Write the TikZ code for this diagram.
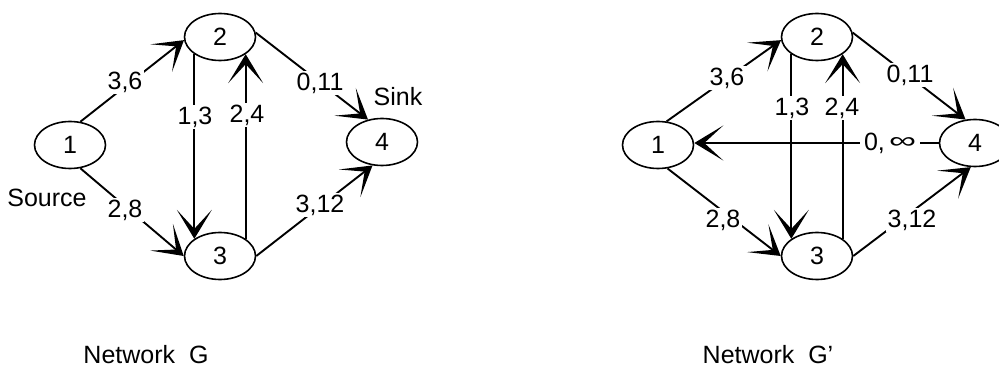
\documentclass[tikz,border=0pt]{standalone}
\usepackage{fontspec}
\usepackage{graphicx}
\setmainfont{Liberation Sans}
\usetikzlibrary{shapes.geometric,arrows.meta}
\begin{document}
\begin{tikzpicture}[x=1pt,y=-1pt,
 vtx/.style={ellipse,draw,line width=1.6pt,minimum width=71pt,minimum height=47pt,inner sep=0pt,font=\fontsize{25}{28}\selectfont},
 edge/.style={line width=1.9pt,-{Stealth[length=29pt,width=35pt,inset=19pt]}},
 lbl/.style={fill=white,inner sep=1.5pt,font=\fontsize{25}{28}\selectfont},
 txt/.style={inner sep=0pt,font=\fontsize{25}{28}\selectfont}]
\useasboundingbox (0,0) rectangle (999,374);

% ---------- Network G ----------
\node[vtx] (a1) at (70,145) {1};
\node[vtx] (a2) at (220,37) {2};
\node[vtx] (a3) at (220,256) {3};
\node[vtx] (a4) at (382,142) {4};

\draw[edge] (a1.66) -- (a2.185);
\draw[edge] (a1.-66) -- (a3.180);
\draw[edge] (a2.south west) -- (a3.north west);
\draw[edge] (a3.north east) -- (a2.south east);
\draw[edge] (a2.7) -- (a4.122);
\draw[edge] (a3.0) -- (a4.-112);

\node[lbl] (la1) at (125,82) {3,6};
\node[lbl] (la2) at (125,210) {2,8};
\node[lbl] (la3) at (195,117) {1,3};
\node[lbl] (la4) at (247,115) {2,4};
\node[lbl] (la5) at (320,83) {0,11};
\node[lbl] (la6) at (320,205) {3,12};
\node[txt] (src) at (47,198) {Source};
\node[txt] (snk) at (398,97) {Sink};
\node[txt] (capa) at (146,355) {Network\ \ G};

% ---------- Network G' ----------
\node[vtx] (b1) at (658,145) {1};
\node[vtx] (b2) at (817,37) {2};
\node[vtx] (b3) at (817,256) {3};
\node[vtx] (b4) at (975,143) {4};

\draw[edge] (b1.70) -- (b2.185);
\draw[edge] (b1.-68) -- (b3.180);
\draw[edge] (b2.south west) -- (b3.north west);
\draw[edge] (b3.north east) -- (b2.south east);
\draw[edge] (b2.7) -- (b4.112);
\draw[edge] (b3.0) -- (b4.-100);
\draw[edge] (b4.west) -- (b4.west -| b1.east);

\node[lbl] (lb1) at (727,78) {3,6};
\node[lbl] (lb2) at (723,220) {2,8};
\node[lbl] (lb3) at (792,108) {1,3};
\node[lbl] (lb4) at (842,108) {2,4};
\node[lbl] (lb5) at (910,75) {0,11};
\node[lbl] (lb6) at (912,220) {3,12};
\node[lbl,inner xsep=4pt] (lb7) at (890,143) {0,\,\raisebox{2pt}{\resizebox{27pt}{11pt}{∞}}};
\node[txt] (capb) at (768,355) {Network\ \ G'};
\end{tikzpicture}
\end{document}
